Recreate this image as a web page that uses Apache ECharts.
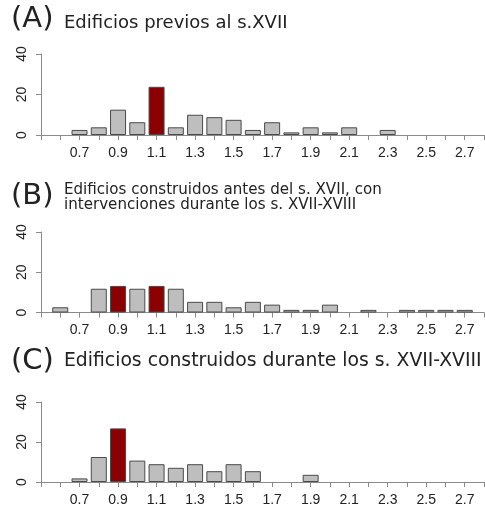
<!DOCTYPE html>
<html>
<head>
<meta charset="utf-8">
<script src="https://cdn.jsdelivr.net/npm/echarts@6/dist/echarts.min.js"></script>
<style>
html,body{margin:0;padding:0;background:#fff;}
#chart{width:485px;height:508px;}
</style>
</head>
<body>
<div id="chart"></div>
<script>
var categories = ['0.5','0.6','0.7','0.8','0.9','1.0','1.1','1.2','1.3','1.4','1.5','1.6','1.7','1.8','1.9','2.0','2.1','2.2','2.3','2.4','2.5','2.6','2.7','2.8'];
var tickLabels = ['0.7','0.9','1.1','1.3','1.5','1.7','1.9','2.1','2.3','2.5','2.7'];
var yTicks = [0, 20, 40];
var valuesA = [0,0,2.5,3.8,12.5,6.3,23.8,3.8,10,8.8,7.5,2.5,6.3,1.3,3.8,1.3,3.8,0,2.5,0,0,0,0,0];
var valuesB = [0,2.6,0,11.8,13.2,11.8,13.2,11.8,5.3,5.3,2.6,5.3,3.9,1.3,1.3,3.9,0,1.3,0,1.3,1.3,1.3,1.3,0];
var valuesC = [0,0,1.8,12.5,26.8,10.7,8.9,7.1,8.9,5.4,8.9,5.4,0,0,3.6,0,0,0,0,0,0,0,0,0];
var highlightA = ['1.1'];
var highlightB = ['0.9','1.1'];
var highlightC = ['0.9'];
var titles = ['Edificios previos al s.XVII', 'Edificios construidos antes del s. XVII, con\nintervenciones durante los s. XVII-XVIII', 'Edificios construidos durante los s. XVII-XVIII'];
var letters = ['(A)', '(B)', '(C)'];

var GRAY = '#bebebe', RED = '#8b0000', BORDER = '#4a4a4a', AXIS = '#8a8a8a';
var grids = [
  {left: 41, width: 443, top: 54, height: 81},
  {left: 41, width: 443, top: 232, height: 80.5},
  {left: 41, width: 443, top: 402, height: 80}
];
var allValues = [valuesA, valuesB, valuesC];
var allHi = [highlightA, highlightB, highlightC];

var xAxes = [], yAxes = [], series = [];
for (var i = 0; i < 3; i++) {
  xAxes.push({
    type: 'category', gridIndex: i, data: categories, boundaryGap: false,
    axisLine: {show: true, lineStyle: {color: AXIS, width: 1}},
    axisTick: {show: true, interval: 0, length: 5, lineStyle: {color: AXIS}},
    axisLabel: {
      interval: function (idx, val) { return tickLabels.indexOf(val) >= 0; },
      margin: 11, color: '#222', fontFamily: 'Liberation Sans', fontSize: 14
    },
    splitLine: {show: false}
  });
  yAxes.push({
    type: 'value', gridIndex: i, min: yTicks[0], max: yTicks[yTicks.length - 1], interval: 20,
    axisLine: {show: true, lineStyle: {color: AXIS, width: 1}},
    axisTick: {show: true, length: 5, lineStyle: {color: AXIS}},
    axisLabel: {rotate: 90, margin: 12, color: '#222', fontFamily: 'Liberation Sans', fontSize: 14},
    splitLine: {show: false}
  });
  (function (vals, hi) {
    series.push({
      type: 'bar', xAxisIndex: i, yAxisIndex: i, barWidth: 16, silent: true,
      data: vals.map(function (v, k) {
        if (v === 0) return '-';
        return {value: v, itemStyle: {color: hi.indexOf(categories[k]) >= 0 ? RED : GRAY, borderColor: BORDER, borderWidth: 1}};
      })
    });
  })(allValues[i], allHi[i]);
}

var titleTops = [12, 183, 350];
var letterTops = [5, 182, 347];
var titleSizes = [18, 15.1, 18.8];
var titleOpts = [];
for (var j = 0; j < 3; j++) {
  titleOpts.push({text: letters[j], left: 11, top: letterTops[j], padding: 0,
    textStyle: {fontFamily: 'DejaVu Sans', fontWeight: 'normal', fontSize: 29, color: '#222'}});
  titleOpts.push({text: titles[j], left: 64, top: titleTops[j], padding: 0,
    textStyle: {fontFamily: 'DejaVu Sans', fontWeight: 'normal', fontSize: titleSizes[j], lineHeight: j === 1 ? 15 : 22, color: '#222'}});
}

var chart = echarts.init(document.getElementById('chart'), null, {renderer: 'canvas'});
chart.setOption({
  animation: false,
  backgroundColor: '#fff',
  title: titleOpts,
  grid: grids,
  xAxis: xAxes,
  yAxis: yAxes,
  series: series
});
</script>
</body>
</html>
